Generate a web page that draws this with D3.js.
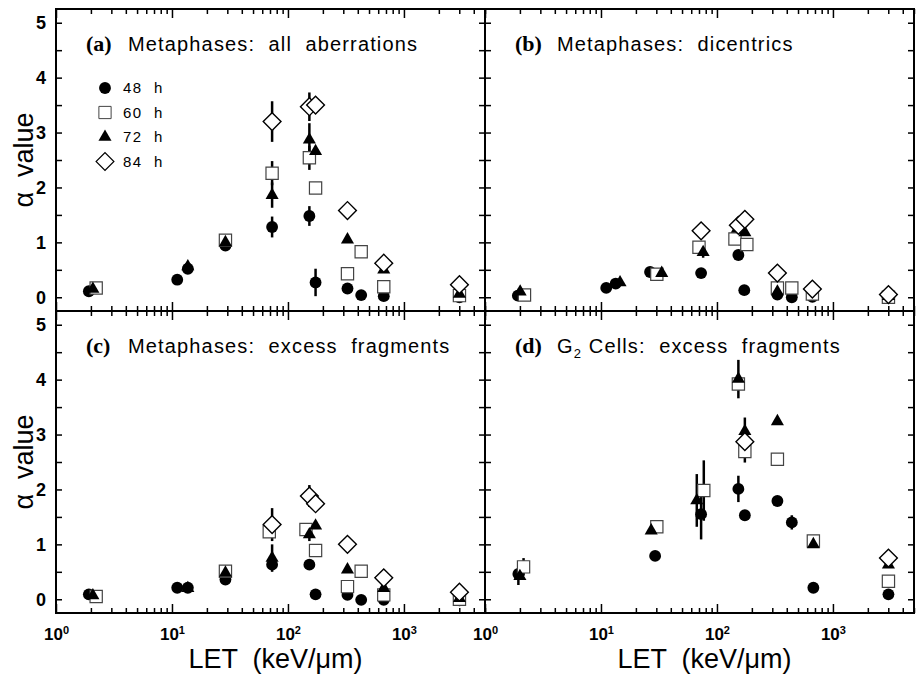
<!DOCTYPE html>
<html>
<head>
<meta charset="utf-8">
<script src="https://cdn.jsdelivr.net/npm/d3@7"></script>
<style>
body { margin: 0; background: #fff; }
text { font-family: "Liberation Sans", Arial, sans-serif; }
</style>
</head>
<body>
<script>
// Series and panel labels
const seriesNames = ['48 h', '60 h', '72 h', '84 h'];
const panelLetters = ['(a)', '(b)', '(c)', '(d)'];
const panelTitles = ['Metaphases:  all  aberrations', 'Metaphases:  dicentrics', 'Metaphases:  excess  fragments', 'Cells:  excess  fragments'];
const xDecades = [1, 10, 100, 1000];
const yTickLabels = [0, 1, 2, 3, 4, 5];

// Every point is [LET, alpha value, error]
// (a) Metaphases: all aberrations
const a48 = [[1.92, 0.11, 0], [11.1, 0.32, 0], [13.7, 0.52, 0], [28.9, 0.94, 0], [73, 1.28, 0.19], [153, 1.48, 0.18], [173, 0.27, 0.25], [326, 0.16, 0], [428, 0.04, 0], [670, 0.02, 0], [3010, 0.0, 0]];
const a60 = [[2.22, 0.17, 0], [28.9, 1.04, 0], [73, 2.26, 0.22], [153, 2.54, 0.22], [173, 1.99, 0.06], [326, 0.43, 0], [428, 0.83, 0], [670, 0.19, 0], [3010, 0.03, 0]];
const a72 = [[2.08, 0.15, 0], [13.7, 0.56, 0], [28.9, 1.0, 0], [73, 1.86, 0.23], [153, 2.87, 0.3], [173, 2.66, 0], [326, 1.05, 0], [670, 0.5, 0], [3010, 0.06, 0]];
const a84 = [[73, 3.2, 0.37], [153, 3.47, 0.26], [173, 3.5, 0], [326, 1.58, 0], [670, 0.62, 0], [3010, 0.23, 0]];

// (b) Metaphases: dicentrics
const b48 = [[1.92, 0.03, 0], [11.1, 0.17, 0], [13.4, 0.25, 0], [26.5, 0.46, 0], [73, 0.44, 0.06], [153, 0.77, 0.08], [172, 0.13, 0], [332, 0.05, 0], [442, 0.0, 0], [665, 0.01, 0], [3010, 0.0, 0]];
const b60 = [[2.19, 0.04, 0], [30.3, 0.42, 0], [70, 0.91, 0], [143, 1.06, 0], [181, 0.96, 0], [332, 0.17, 0], [442, 0.17, 0], [665, 0.06, 0], [3010, 0.0, 0]];
const b72 = [[2.01, 0.1, 0], [14.6, 0.27, 0], [33.4, 0.44, 0], [76, 0.82, 0.1], [150, 1.25, 0.15], [174, 1.18, 0], [332, 0.1, 0], [3010, 0.02, 0]];
const b84 = [[73, 1.21, 0], [153, 1.31, 0], [174, 1.42, 0], [332, 0.44, 0], [665, 0.15, 0], [3010, 0.05, 0]];

// (c) Metaphases: excess fragments
const c48 = [[1.92, 0.09, 0], [11.1, 0.21, 0], [13.7, 0.21, 0], [28.9, 0.36, 0], [73, 0.63, 0.06], [153, 0.63, 0], [173, 0.09, 0], [326, 0.08, 0], [428, -0.01, 0], [670, -0.01, 0], [3010, -0.02, 0]];
const c60 = [[2.22, 0.05, 0], [28.9, 0.51, 0], [69, 1.23, 0], [143, 1.27, 0], [173, 0.89, 0], [326, 0.23, 0], [428, 0.51, 0], [670, 0.08, 0], [3010, 0.0, 0]];
const c72 = [[2.08, 0.07, 0], [13.7, 0.2, 0], [28.9, 0.48, 0], [73, 0.75, 0.25], [153, 1.18, 0.12], [173, 1.34, 0], [326, 0.54, 0], [670, 0.2, 0], [3010, 0.02, 0]];
const c84 = [[73, 1.36, 0.3], [153, 1.88, 0.2], [173, 1.74, 0], [326, 1.0, 0], [670, 0.39, 0], [3010, 0.13, 0]];

// (d) G2 cells: excess fragments
const d48 = [[1.94, 0.46, 0.2], [29.3, 0.79, 0], [73, 1.55, 0.46], [153, 2.01, 0.24], [174, 1.53, 0], [332, 1.79, 0], [442, 1.4, 0.13], [678, 0.21, 0], [3010, 0.09, 0]];
const d60 = [[2.15, 0.59, 0.16], [30.3, 1.32, 0], [77, 1.98, 0.55], [153, 3.92, 0], [174, 2.69, 0.2], [332, 2.55, 0.08], [678, 1.06, 0], [3010, 0.33, 0]];
const d72 = [[2.0, 0.42, 0], [27.1, 1.25, 0], [67, 1.8, 0.48], [153, 4.01, 0.35], [174, 3.06, 0.25], [332, 3.24, 0], [678, 1.0, 0], [3010, 0.63, 0]];
const d84 = [[174, 2.87, 0], [3010, 0.75, 0]];

const margin = { top: 9, left: 56 };
const panelW = 429;
const panelH = 302;

// Adds a <svg> to <body>
const svg = d3
    .select('body')
    .append('svg')
    .attr('width', 917)
    .attr('height', 676);

// Scales shared by all four panels
const x = d3.scaleLog().domain([1, 5000]).range([0, panelW]);
const y = d3.scaleLinear().domain([-0.25, 5.25]).range([panelH, 0]);

// Minor log ticks 2..9 in every decade
const xMinor = [];
xDecades.forEach((d) => {
    for (let m = 2; m <= 9; m++) if (m * d <= 5000) xMinor.push(m * d);
});
const yHalf = d3.range(0, 5.01, 0.5);

// Marker shapes, one per series
const shapes = [
    d3.symbol().type(d3.symbolCircle).size(110),
    d3.symbol().type(d3.symbolSquare).size(150),
    d3.symbol().type(d3.symbolTriangle).size(74),
    d3.symbol().type(d3.symbolSquare).size(158),
];
const fills = ['#000', '#fff', '#000', '#fff'];
const strokes = ['none', '#444', 'none', '#000'];
const rotations = [0, 0, 0, 45];

const panels = [
    { col: 0, row: 0, series: [a48, a60, a72, a84] },
    { col: 1, row: 0, series: [b48, b60, b72, b84] },
    { col: 0, row: 1, series: [c48, c60, c72, c84] },
    { col: 1, row: 1, series: [d48, d60, d72, d84] },
];

function noDomain(sel) {
    sel.select('.domain').remove();
    sel.selectAll('line').attr('stroke', '#000').attr('stroke-width', 1.5);
}

panels.forEach((p, i) => {
    const g = svg.append('g').attr('transform', `translate(${margin.left + p.col * panelW},${margin.top + p.row * panelH})`);

    // inward ticks on all four sides
    g.append('g').attr('transform', `translate(0,${panelH})`)
        .call(d3.axisBottom(x).tickValues(xMinor).tickSize(-5).tickSizeOuter(0).tickFormat('')).call(noDomain);
    g.append('g').attr('transform', `translate(0,${panelH})`)
        .call(d3.axisBottom(x).tickValues(xDecades).tickSize(-9).tickSizeOuter(0).tickFormat('')).call(noDomain);
    g.append('g')
        .call(d3.axisTop(x).tickValues(xMinor).tickSize(-5).tickSizeOuter(0).tickFormat('')).call(noDomain);
    g.append('g')
        .call(d3.axisTop(x).tickValues(xDecades).tickSize(-9).tickSizeOuter(0).tickFormat('')).call(noDomain);
    g.append('g')
        .call(d3.axisLeft(y).tickValues(yHalf).tickSize(-6).tickSizeOuter(0).tickFormat('')).call(noDomain);
    g.append('g').attr('transform', `translate(${panelW},0)`)
        .call(d3.axisRight(y).tickValues(yHalf).tickSize(-6).tickSizeOuter(0).tickFormat('')).call(noDomain);

    // y labels on the left column only
    if (p.col === 0) {
        const yl = g.append('g')
            .call(d3.axisLeft(y).tickValues(yTickLabels).tickSize(0).tickPadding(10).tickFormat(d3.format('d')))
            .call(noDomain);
        yl.selectAll('text').attr('font-size', 18).attr('font-weight', 'bold')
            .style('font-family', '"Liberation Sans Narrow", "Liberation Sans", Arial, sans-serif');

        g.append('text')
            .attr('transform', `translate(${33 - margin.left},${panelH / 2}) rotate(-90)`)
            .attr('text-anchor', 'middle')
            .attr('font-size', 27)
            .style('white-space', 'pre')
            .text('\u03b1  value');
    }

    // x labels on the bottom row only, as 10 with a superscript
    if (p.row === 1) {
        const xl = g.append('g').attr('transform', `translate(0,${panelH})`)
            .call(d3.axisBottom(x).tickValues(xDecades).tickSize(0).tickPadding(15).tickFormat(''))
            .call(noDomain);
        xl.selectAll('text').each(function (d) {
            const t = d3.select(this)
                .attr('font-size', 17).attr('font-weight', 'bold')
                .style('font-family', '"Liberation Sans Narrow", "Liberation Sans", Arial, sans-serif');
            t.append('tspan').text('10');
            t.append('tspan').attr('font-size', 11).attr('dy', '-0.55em').text(Math.round(Math.log10(d)));
        });

        g.append('text')
            .attr('x', panelW / 2 + 5)
            .attr('y', 668 - margin.top - panelH)
            .attr('text-anchor', 'middle')
            .attr('font-size', 27)
            .style('white-space', 'pre')
            .text('LET  (keV/\u03bcm)');
    }

    // error bars first, then the markers on top
    p.series.forEach((s) => {
        g.selectAll(null)
            .data(s.filter((d) => d[2] > 0))
            .join('line')
            .attr('x1', (d) => x(d[0]))
            .attr('x2', (d) => x(d[0]))
            .attr('y1', (d) => y(d[1] - d[2]))
            .attr('y2', (d) => y(d[1] + d[2]))
            .attr('stroke', '#000')
            .attr('stroke-width', 2.5);
    });
    p.series.forEach((s, k) => {
        g.selectAll(null)
            .data(s)
            .join('path')
            .attr('d', shapes[k])
            .attr('transform', (d) => `translate(${x(d[0])},${y(d[1])}) rotate(${rotations[k]})`)
            .attr('fill', fills[k])
            .attr('stroke', strokes[k])
            .attr('stroke-width', k === 3 ? 1.4 : 1.2);
    });

    // panel title
    const title = g.append('text').attr('x', 30).attr('y', 42);
    title.append('tspan')
        .style('font-family', '"Liberation Serif", "Times New Roman", serif')
        .attr('font-weight', 'bold')
        .attr('font-size', 22)
        .text(panelLetters[i]);
    const rest = g.append('text').attr('x', 72).attr('y', 42)
        .attr('font-size', 20).attr('letter-spacing', 1.15)
        .style('white-space', 'pre');
    if (i === 3) {
        rest.append('tspan').text('G');
        rest.append('tspan').attr('font-size', 13).attr('dy', 5).text('2');
        rest.append('tspan').attr('dy', -5).text(' ' + panelTitles[i]);
    } else {
        rest.text(panelTitles[i]);
    }

    // frame
    g.append('rect')
        .attr('width', panelW)
        .attr('height', panelH)
        .attr('fill', 'none')
        .attr('stroke', '#000')
        .attr('stroke-width', 2);
});

// Legend inside panel (a)
const legend = svg.append('g').attr('transform', `translate(${margin.left + 49},${margin.top + 79})`);
seriesNames.forEach((name, k) => {
    const row = legend.append('g').attr('transform', `translate(0,${k * 24.5})`);
    row.append('path')
        .attr('d', shapes[k])
        .attr('transform', `rotate(${rotations[k]})`)
        .attr('fill', fills[k])
        .attr('stroke', strokes[k])
        .attr('stroke-width', k === 3 ? 1.2 : 1);
    row.append('text')
        .attr('x', 18)
        .attr('dy', '0.36em')
        .attr('font-size', 15)
        .attr('letter-spacing', 1.5)
        .style('white-space', 'pre')
        .text(name.replace(' ', '  '));
});
</script>
</body>
</html>
